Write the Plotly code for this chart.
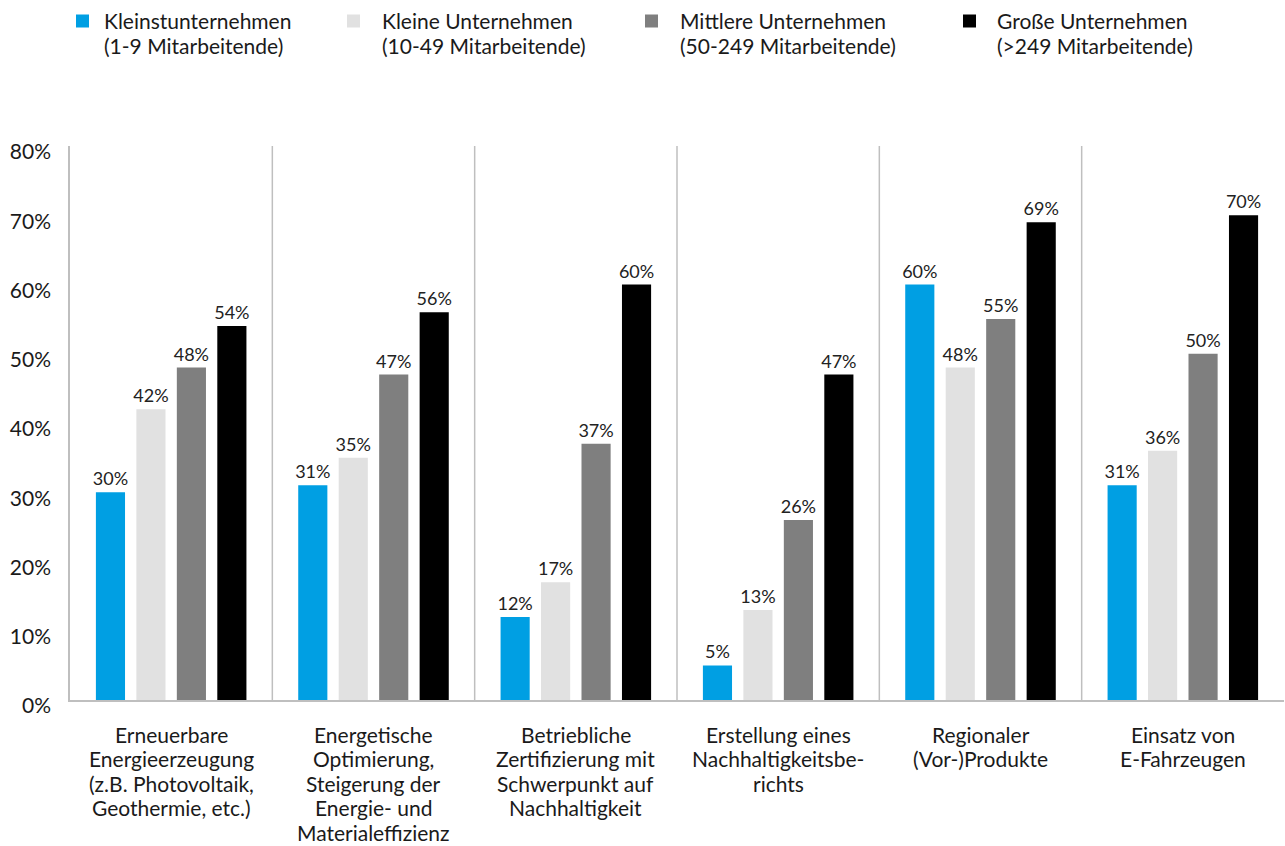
import plotly.graph_objects as go

# Categories (x-axis labels, line breaks as drawn)
categories = [
    "Erneuerbare<br>Energieerzeugung<br>(z.B. Photovoltaik,<br>Geothermie, etc.)",
    "Energetische<br>Optimierung,<br>Steigerung der<br>Energie- und<br>Materialeffizienz",
    "Betriebliche<br>Zertifizierung mit<br>Schwerpunkt auf<br>Nachhaltigkeit",
    "Erstellung eines<br>Nachhaltigkeitsbe-<br>richts",
    "Regionaler<br>(Vor-)Produkte",
    "Einsatz von<br>E-Fahrzeugen",
]

# Shares per company size (fractions)
kleinst = [0.30, 0.31, 0.12, 0.05, 0.60, 0.31]
klein = [0.42, 0.35, 0.17, 0.13, 0.48, 0.36]
mittel = [0.48, 0.47, 0.37, 0.26, 0.55, 0.50]
gross = [0.54, 0.56, 0.60, 0.47, 0.69, 0.70]

series_names = [
    "Kleinstunternehmen<br>(1-9 Mitarbeitende)",
    "Kleine Unternehmen<br>(10-49 Mitarbeitende)",
    "Mittlere Unternehmen<br>(50-249 Mitarbeitende)",
    "Große Unternehmen<br>(>249 Mitarbeitende)",
]
series_values = [kleinst, klein, mittel, gross]
series_colors = ["#009FE3", "#E1E1E1", "#7F7F7F", "#000000"]

y_ticks = [0, 0.1, 0.2, 0.3, 0.4, 0.5, 0.6, 0.7, 0.8]

FONT = "Lato"
TEXT = "#1a1a1a"
LINE = "#BFBFBF"

W, H = 1285, 846
M_L, M_R, M_T, M_B = 70, 1, 146, 146
plot_w = W - M_L - M_R
plot_h = H - M_T - M_B


def px_x(px):
    return (px - M_L) / plot_w


def px_y(py):
    return (H - M_B - py) / plot_h


fig = go.Figure()
x_idx = list(range(len(categories)))
for name, vals, col in zip(series_names, series_values, series_colors):
    fig.add_trace(go.Bar(
        x=x_idx, y=vals, name=name.replace("<br>", " "),
        marker=dict(color=col, line=dict(width=0)),
        texttemplate="%{y:.0%}", textposition="outside",
        textfont=dict(family=FONT, size=18, color="#222222"),
        constraintext="none",
        cliponaxis=False,
        showlegend=False,
    ))

shapes = []
annotations = []

# separators between category groups
for k in range(1, len(categories)):
    shapes.append(dict(
        type="line", xref="x", yref="paper",
        x0=k - 0.5, x1=k - 0.5, y0=0, y1=1,
        line=dict(color=LINE, width=1.5),
    ))

# category labels, one annotation per line for tighter leading
LABEL_SIZE = 21
LABEL_TOP = 734
LABEL_LEAD = 24.6
for i, cat in enumerate(categories):
    for j, line in enumerate(cat.split("<br>")):
        annotations.append(dict(
            x=i, xref="x", y=px_y(LABEL_TOP + j * LABEL_LEAD), yref="paper",
            text=line, showarrow=False, xanchor="center", yanchor="middle",
            font=dict(family=FONT, size=LABEL_SIZE, color=TEXT),
        ))

# legend: colour key squares plus two-line entries
legend_square_left = [76, 347, 645, 963]
legend_text_left = [102, 380, 678, 995]
LEG_Y1, LEG_Y2 = 21, 45
SQ = 13
for name, col, sq, tx in zip(series_names, series_colors, legend_square_left, legend_text_left):
    shapes.append(dict(
        type="rect", xref="paper", yref="paper",
        x0=px_x(sq), x1=px_x(sq + SQ),
        y0=px_y(LEG_Y1 + SQ / 2), y1=px_y(LEG_Y1 - SQ / 2),
        fillcolor=col, line=dict(width=0),
    ))
    for ly, line in zip([LEG_Y1, LEG_Y2], name.split("<br>")):
        annotations.append(dict(
            x=px_x(tx), xref="paper", y=px_y(ly), yref="paper",
            text=line, showarrow=False, xanchor="left", yanchor="middle",
            font=dict(family=FONT, size=LABEL_SIZE, color=TEXT),
        ))

fig.update_layout(
    width=W, height=H,
    margin=dict(l=M_L, r=M_R, t=M_T, b=M_B),
    paper_bgcolor="white", plot_bgcolor="white",
    barmode="group", bargap=0.2, bargroupgap=0.28,
    font=dict(family=FONT, color=TEXT),
    shapes=shapes, annotations=annotations,
    showlegend=False,
)

fig.update_xaxes(
    range=[-0.5, len(categories) - 0.5],
    tickmode="array", tickvals=x_idx, showticklabels=False,
    showline=True, linecolor=LINE, linewidth=1.5,
    showgrid=False, zeroline=False, ticks="",
)
fig.update_yaxes(
    range=[0, 0.8],
    tickmode="array", tickvals=y_ticks, tickformat=".0%",
    tickfont=dict(family=FONT, size=21, color=TEXT),
    showline=True, linecolor=LINE, linewidth=1.5,
    showgrid=False, zeroline=False, ticks="",
    ticklabelstandoff=13, ticklabelshift=6,
)

fig.write_html("out.html")
